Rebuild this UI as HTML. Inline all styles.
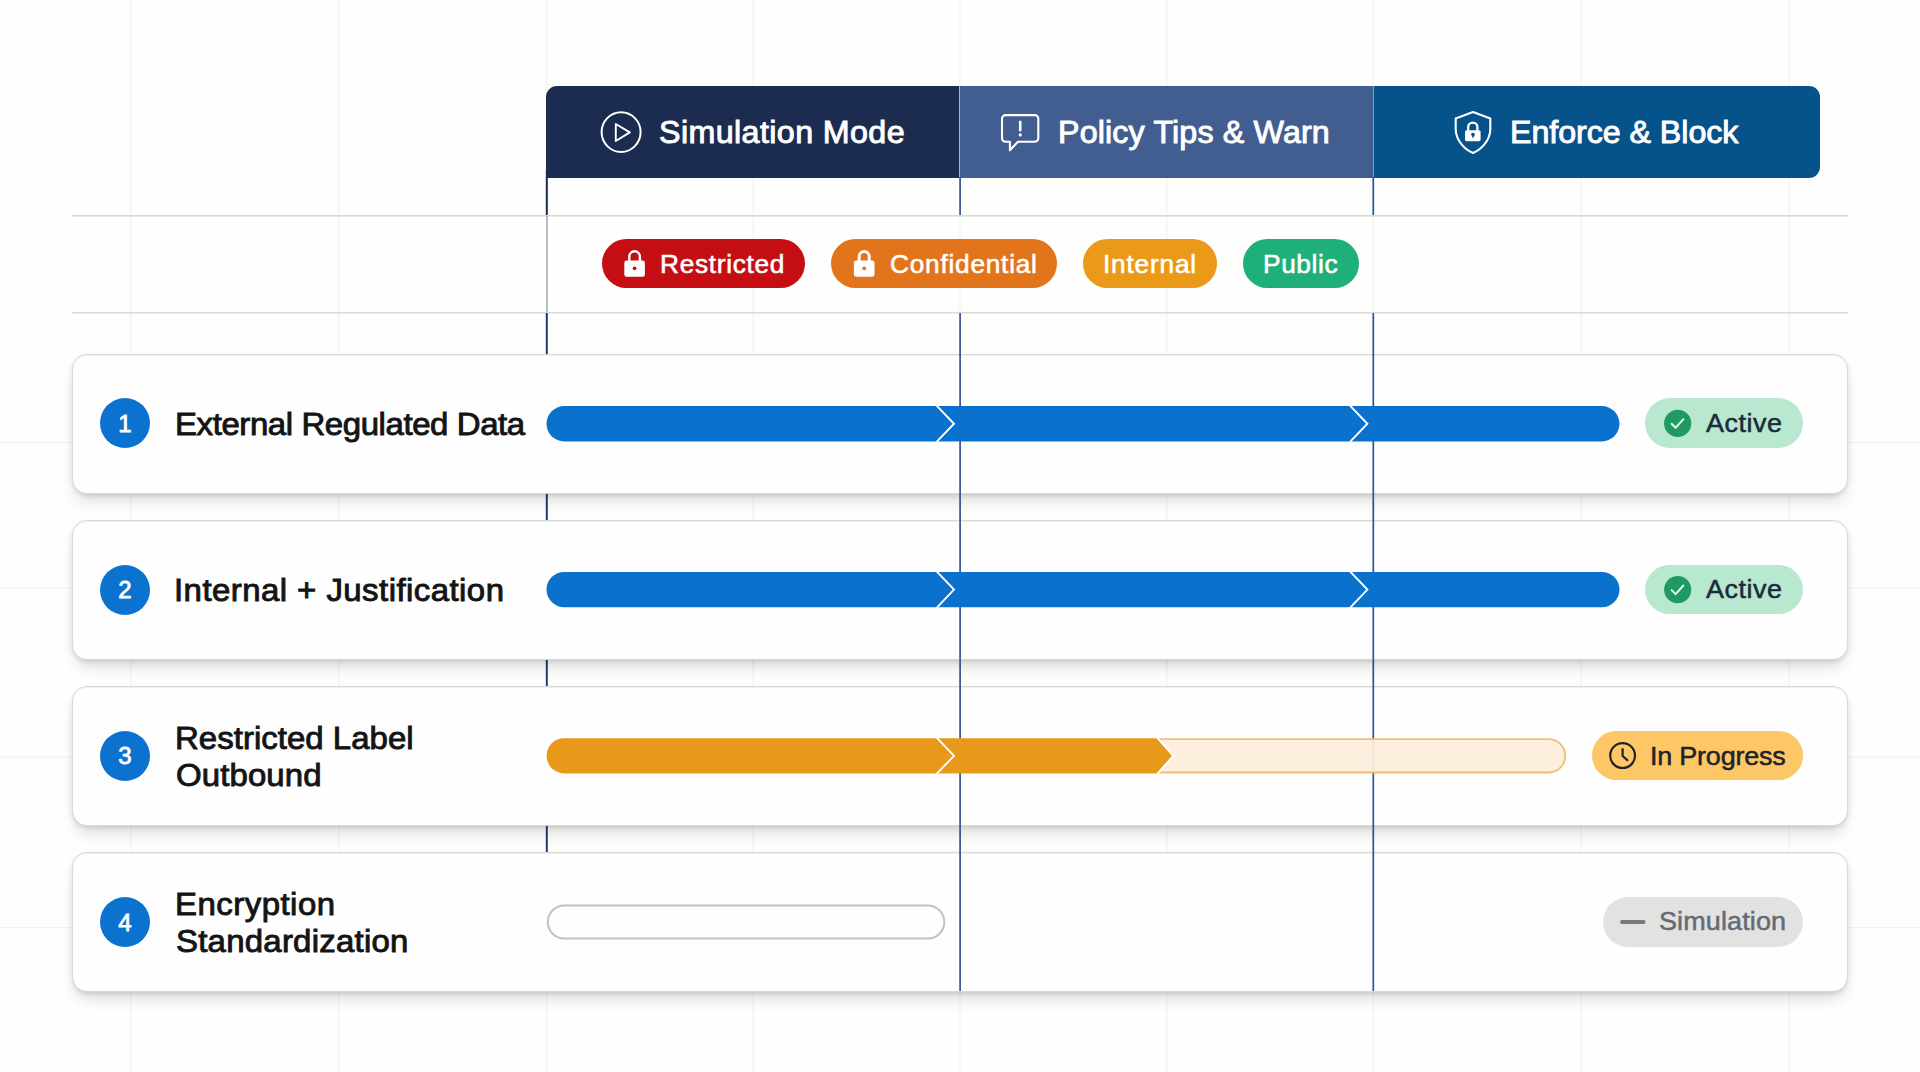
<!DOCTYPE html>
<html lang="en">
<head>
<meta charset="utf-8">
<title>DLP Policy Rollout</title>
<style>

html,body{margin:0;padding:0;}
body{width:1920px;height:1072px;overflow:hidden;background:#fefefd;font-family:"Liberation Sans",sans-serif;position:relative;}
.abs{position:absolute;}
.t{position:absolute;white-space:nowrap;line-height:1;transform:scaleX(1.05);transform-origin:0 0;}
.tn{transform:none;}
.card{position:absolute;box-sizing:border-box;left:72px;width:1776px;height:140px;background:#fefefe;border:1px solid #d8d8d8;border-radius:15px;box-shadow:0 10px 16px -4px rgba(0,0,0,0.15),0 2px 4px rgba(0,0,0,0.10),inset 0 1px 0 rgba(0,0,0,0.05);}
.num{position:absolute;left:100px;width:50px;height:50px;border-radius:50%;background:#0b72cf;}
.pill{position:absolute;border-radius:25px;}
svg{position:absolute;left:0;top:0;overflow:visible;}

</style>
</head>
<body>
<svg width="1920" height="1072" viewBox="0 0 1920 1072"><rect x="130.5" y="0" width="1" height="1072" fill="#efefee"/><rect x="338.5" y="0" width="1" height="1072" fill="#efefee"/><rect x="546.5" y="0" width="1" height="1072" fill="#efefee"/><rect x="752.5" y="0" width="1" height="1072" fill="#efefee"/><rect x="959.5" y="0" width="1" height="1072" fill="#efefee"/><rect x="1166.5" y="0" width="1" height="1072" fill="#efefee"/><rect x="1372.5" y="0" width="1" height="1072" fill="#efefee"/><rect x="1580.5" y="0" width="1" height="1072" fill="#efefee"/><rect x="1788.5" y="0" width="1" height="1072" fill="#efefee"/><rect x="0" y="442.1" width="1920" height="1" fill="#f0f0ef"/><rect x="0" y="587.7" width="1920" height="1" fill="#f0f0ef"/><rect x="0" y="756.5" width="1920" height="1" fill="#f0f0ef"/><rect x="0" y="926.9" width="1920" height="1" fill="#f0f0ef"/><rect x="72" y="215" width="1776" height="1.6" fill="#d9d9d9"/><rect x="72" y="311.9" width="1776" height="1.6" fill="#d9d9d9"/><rect x="545.8" y="170" width="2" height="45" fill="#1b2c50"/><rect x="546.3" y="216" width="1.4" height="96" fill="#9aa6b8"/><rect x="545.8" y="313" width="2" height="540" fill="#1f3d75"/></svg>
<div class="abs" style="left:545.7px;top:85.7px;width:414px;height:92.1px;background:#1b2c50;border-radius:11px 0 0 0;"></div>
<div class="abs" style="left:959.7px;top:85.7px;width:414px;height:92.1px;background:#425e90;"></div>
<div class="abs" style="left:1373.7px;top:85.7px;width:446px;height:92.1px;background:#06528a;border-radius:0 11px 11px 0;"></div>
<div class="abs" style="left:959.2px;top:85.7px;width:1.3px;height:92.1px;background:#a9b6cc;"></div>
<div class="abs" style="left:1373px;top:85.7px;width:1.3px;height:92.1px;background:#7f9fc0;"></div>
<div class="card" style="top:354px"></div>
<div class="card" style="top:520px"></div>
<div class="card" style="top:686px"></div>
<div class="card" style="top:852px"></div>
<svg width="1920" height="1072" viewBox="0 0 1920 1072"><rect x="959.25" y="177" width="1.7" height="38" fill="#36568c"/><rect x="959.25" y="313" width="1.7" height="678" fill="#36568c"/><rect x="1372.45" y="177" width="1.7" height="38" fill="#23599a"/><rect x="1372.45" y="313" width="1.7" height="678" fill="#23599a"/><rect x="546.5" y="406.05" width="1073" height="35.4" rx="17.7" fill="#0a72cd"/><polyline points="936.6,405.55 954,423.75 936.6,441.95" fill="none" stroke="#ffffff" stroke-width="1.9"/><polyline points="1350,405.55 1367.4,423.75 1350,441.95" fill="none" stroke="#ffffff" stroke-width="1.9"/><rect x="546.5" y="571.9" width="1073" height="35.4" rx="17.7" fill="#0a72cd"/><polyline points="936.6,571.4 954,589.6 936.6,607.8" fill="none" stroke="#ffffff" stroke-width="1.9"/><polyline points="1350,571.4 1367.4,589.6 1350,607.8" fill="none" stroke="#ffffff" stroke-width="1.9"/><path d="M1158,739.1 H1548.6 A16.7,16.7 0 0 1 1548.6,772.5 H1158" fill="#fdeedb" fill-opacity="0.93" stroke="#f1bd72" stroke-width="1.8"/><path d="M564.2,738.2 H1156.5 L1172.3,755.8 L1156.5,773.4 H564.2 A17.6,17.6 0 0 1 564.2,738.2 Z" fill="#e9991a"/><polyline points="936.6,737.7 954,755.8 936.6,773.9" fill="none" stroke="#ffffff" stroke-width="1.9"/><polyline points="1157.3,737.7 1173.3,755.8 1157.3,773.9" fill="none" stroke="#ffffff" stroke-width="1.9"/><rect x="547.8" y="905.4" width="396.5" height="33.2" rx="16.6" fill="#fefefe" stroke="#c2c2c2" stroke-width="2"/></svg>
<div class="pill" style="left:601.5px;top:239.2px;width:203.5px;height:48.7px;background:#c40e13;"></div>
<div class="pill" style="left:831.2px;top:239.2px;width:225.8px;height:48.7px;background:#e2741c;"></div>
<div class="pill" style="left:1083px;top:239.2px;width:133.5px;height:48.7px;background:#ea9a18;"></div>
<div class="pill" style="left:1243px;top:239.2px;width:115.7px;height:48.7px;background:#1fb07a;"></div>
<div class="pill" style="left:1644.9px;top:398.3px;width:158px;height:49.7px;background:#b9e8d1;"></div>
<div class="pill" style="left:1644.9px;top:564.5px;width:158px;height:49.7px;background:#b9e8d1;"></div>
<div class="pill" style="left:1591.5px;top:731px;width:211.5px;height:49.4px;background:#fdc766;"></div>
<div class="pill" style="left:1602.6px;top:896.9px;width:200px;height:50px;background:#e2e2e1;"></div>
<div class="num" style="top:398.3px"></div>
<div class="num" style="top:564.5px"></div>
<div class="num" style="top:730.7px"></div>
<div class="num" style="top:896.9px"></div>
<svg width="1920" height="1072" viewBox="0 0 1920 1072"><ellipse cx="621.1" cy="132.1" rx="19.5" ry="19.8" fill="none" stroke="#fff" stroke-width="2"/><path d="M615.8,124 L629.8,132.4 L615.8,141 Z" fill="none" stroke="#fff" stroke-width="1.9" stroke-linejoin="round"/><path d="M1005.5,115.1 H1034.8 a3.5,3.5 0 0 1 3.5,3.5 V138.2 a3.5,3.5 0 0 1 -3.5,3.5 H1018 L1009.9,150.2 V141.7 H1005.5 a3.5,3.5 0 0 1 -3.5,-3.5 V118.6 a3.5,3.5 0 0 1 3.5,-3.5 Z" fill="none" stroke="#fff" stroke-width="2.1" stroke-linejoin="round"/><rect x="1018.9" y="120.8" width="2.6" height="10.6" rx="0.8" fill="#fff"/><circle cx="1020.2" cy="134.9" r="1.6" fill="#fff"/><path d="M1473,112 L1490.3,118.4 V129 C1490.3,141 1480.5,150 1473,152.9 C1465.5,150 1455.7,141 1455.7,129 V118.4 Z" fill="none" stroke="#fff" stroke-width="2.1" stroke-linejoin="round"/><rect x="1465" y="130.2" width="15.6" height="11" rx="1.6" fill="#fff"/><path d="M1468.2,131 V127.1 a4.6,4.6 0 0 1 9.2,0 V131" fill="none" stroke="#fff" stroke-width="2.3"/><path d="M1473,132.8 a1.8,1.8 0 0 1 1.8,1.8 c0,0.9 -0.5,1.4 -0.9,1.9 l-0.9,2.1 l-0.9,-2.1 c-0.4,-0.5 -0.9,-1 -0.9,-1.9 a1.8,1.8 0 0 1 1.8,-1.8 Z" fill="#06528a"/><rect x="624.3" y="260.6" width="20.6" height="16.2" rx="2.4" fill="#fff"/><path d="M629.3,262 V256.5 a5.3,5.3 0 0 1 10.6,0 V262" fill="none" stroke="#fff" stroke-width="2.4"/><circle cx="634.6" cy="268.3" r="1.9" fill="#c40e13"/><rect x="853.9" y="260.6" width="20.6" height="16.2" rx="2.4" fill="#fff"/><path d="M859.15,262 V256.5 a5.05,5.05 0 0 1 10.1,0 V262" fill="none" stroke="#fff" stroke-width="2.9"/><circle cx="864.2" cy="268.3" r="1.9" fill="#e2741c"/><circle cx="1677.7" cy="423.4" r="13.6" fill="#219a62"/><polyline points="1671.6,423.8 1675.6,427.8 1683.4,419.2" fill="none" stroke="#e4f7ee" stroke-width="2.0" stroke-linecap="round" stroke-linejoin="round"/><circle cx="1677.7" cy="589.7" r="13.6" fill="#219a62"/><polyline points="1671.6,590.1 1675.6,594.1 1683.4,585.5" fill="none" stroke="#e4f7ee" stroke-width="2.0" stroke-linecap="round" stroke-linejoin="round"/><circle cx="1622.6" cy="755.6" r="12.4" fill="none" stroke="#1f2328" stroke-width="2.2"/><polyline points="1622.6,749 1622.6,756 1627.4,760.2" fill="none" stroke="#1f2328" stroke-width="2.2" stroke-linecap="round" stroke-linejoin="round"/><rect x="1620" y="920" width="25.6" height="4" rx="2" fill="#757b82"/></svg>
<div class="t" id="t1" style="left:659.21px;top:117.76px;font-size:30.7px;color:#ffffff;letter-spacing:0.382px;-webkit-text-stroke:0.9px #ffffff;">Simulation Mode</div>
<div class="t" id="t2" style="left:1057.76px;top:117.76px;font-size:30.7px;color:#ffffff;letter-spacing:0.145px;-webkit-text-stroke:0.9px #ffffff;">Policy Tips &amp; Warn</div>
<div class="t" id="t3" style="left:1509.59px;top:117.76px;font-size:30.7px;color:#ffffff;letter-spacing:-0.056px;-webkit-text-stroke:0.9px #ffffff;">Enforce &amp; Block</div>
<div class="t" id="p1" style="left:659.84px;top:251.74px;font-size:25px;color:#ffffff;letter-spacing:0.664px;-webkit-text-stroke:0.55px #ffffff;">Restricted</div>
<div class="t" id="p2" style="left:889.68px;top:251.74px;font-size:25px;color:#ffffff;letter-spacing:0.716px;-webkit-text-stroke:0.55px #ffffff;">Confidential</div>
<div class="t" id="p3" style="left:1102.89px;top:251.74px;font-size:25px;color:#ffffff;letter-spacing:0.762px;-webkit-text-stroke:0.55px #ffffff;">Internal</div>
<div class="t" id="p4" style="left:1262.83px;top:251.74px;font-size:25px;color:#ffffff;letter-spacing:0.602px;-webkit-text-stroke:0.55px #ffffff;">Public</div>
<div class="t" id="r1" style="left:174.84px;top:408.82px;font-size:31.4px;color:#141414;letter-spacing:-0.388px;-webkit-text-stroke:0.9px #141414;">External Regulated Data</div>
<div class="t" id="r2" style="left:174.39px;top:574.82px;font-size:31.4px;color:#141414;letter-spacing:0.425px;-webkit-text-stroke:0.9px #141414;">Internal + Justification</div>
<div class="t" id="r3a" style="left:175.26px;top:723.02px;font-size:31.4px;color:#141414;letter-spacing:0.027px;-webkit-text-stroke:0.9px #141414;">Restricted Label</div>
<div class="t" id="r3b" style="left:176.13px;top:759.93px;font-size:31.4px;color:#141414;letter-spacing:0.105px;-webkit-text-stroke:0.9px #141414;">Outbound</div>
<div class="t" id="r4a" style="left:175.12px;top:888.72px;font-size:31.4px;color:#141414;letter-spacing:0.456px;-webkit-text-stroke:0.9px #141414;">Encryption</div>
<div class="t" id="r4b" style="left:175.96px;top:925.93px;font-size:31.4px;color:#141414;letter-spacing:0.225px;-webkit-text-stroke:0.9px #141414;">Standardization</div>
<div class="t" id="s1" style="left:1705.75px;top:410.64px;font-size:25.7px;color:#1c2a3a;letter-spacing:0.498px;-webkit-text-stroke:0.5px #1c2a3a;">Active</div>
<div class="t" id="s2" style="left:1705.75px;top:576.84px;font-size:25.7px;color:#1c2a3a;letter-spacing:0.498px;-webkit-text-stroke:0.5px #1c2a3a;">Active</div>
<div class="t" id="s3" style="left:1649.77px;top:743.99px;font-size:25.7px;color:#1f2328;letter-spacing:-0.208px;-webkit-text-stroke:0.5px #1f2328;">In Progress</div>
<div class="t" id="s4" style="left:1658.70px;top:908.84px;font-size:25.7px;color:#646b74;letter-spacing:0.123px;-webkit-text-stroke:0.5px #646b74;">Simulation</div>
<div class="t tn" id="n1" style="left:100px;width:50px;text-align:center;top:412.08px;font-size:24px;color:#ffffff;-webkit-text-stroke:0.8px #ffffff;">1</div>
<div class="t tn" id="n2" style="left:100px;width:50px;text-align:center;top:578.28px;font-size:24px;color:#ffffff;-webkit-text-stroke:0.8px #ffffff;">2</div>
<div class="t tn" id="n3" style="left:100px;width:50px;text-align:center;top:744.48px;font-size:24px;color:#ffffff;-webkit-text-stroke:0.8px #ffffff;">3</div>
<div class="t tn" id="n4" style="left:100px;width:50px;text-align:center;top:910.68px;font-size:24px;color:#ffffff;-webkit-text-stroke:0.8px #ffffff;">4</div>
</body>
</html>
